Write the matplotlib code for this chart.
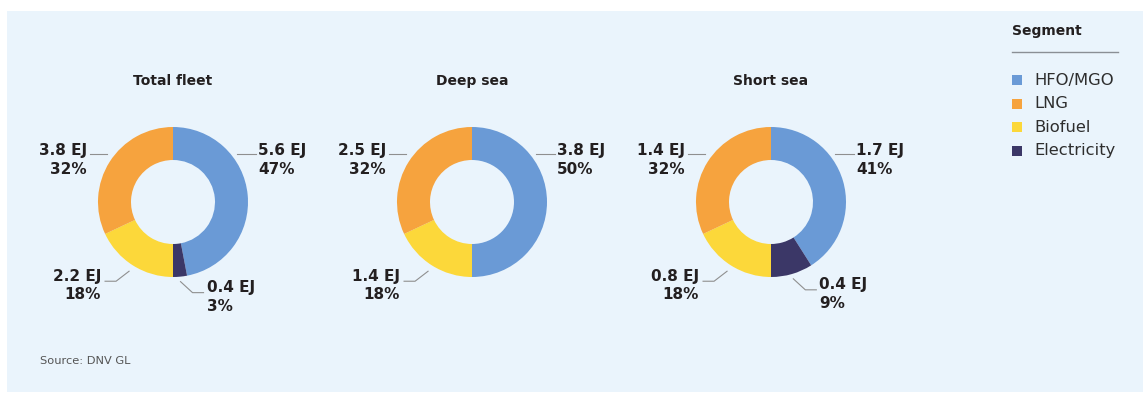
#!/usr/bin/env python
# -*- coding: utf-8 -*-

"""
Energy use by fuel segment: donut charts for total fleet, deep sea and short sea.
"""

import numpy as np
import matplotlib
matplotlib.use("Agg")
import matplotlib.pyplot as plt
from matplotlib.patches import Rectangle

# segments in clockwise order starting from 12 o'clock
SEGMENTS = ["HFO/MGO", "Electricity", "Biofuel", "LNG"]
LEGEND_ORDER = ["HFO/MGO", "LNG", "Biofuel", "Electricity"]

CHART_TITLES = ["Total fleet", "Deep sea", "Short sea"]

total_ej = [5.6, 0.4, 2.2, 3.8]
total_pct = [47, 3, 18, 32]

deep_ej = [3.8, 0.0, 1.4, 2.5]
deep_pct = [50, 0, 18, 32]

short_ej = [1.7, 0.4, 0.8, 1.4]
short_pct = [41, 9, 18, 32]

SOURCE = "Source: DNV GL"
LEGEND_TITLE = "Segment"

COLORS = {
    "HFO/MGO": "#6a9ad6",
    "LNG": "#f6a33e",
    "Biofuel": "#fcd83a",
    "Electricity": "#3b3767",
}
BG = "#eaf4fc"
TEXT = "#231f20"
LEADER = "#8f8f8f"

W, H = 1143, 401
CENTERS_X = [173, 472, 771]
CY = 202
R = 75
RING = 33


def fmt_ej(v):
    return f"{v:.1f} EJ"


def mid_point(pcts, idx, r, cx):
    # mid-angle of a wedge, measured clockwise from the top
    start = sum(pcts[:idx])
    phi = np.deg2rad((start + pcts[idx] / 2) * 3.6)
    return cx + r * np.sin(phi), CY - r * np.cos(phi)


def label(ax, x, y, ej, pct, ha):
    kw = dict(ha=ha, va="center", fontsize=11, fontweight="bold", color=TEXT)
    ax.text(x, y, fmt_ej(ej), **kw)
    ax.text(x, y + 18.5, f"{pct}%", **kw)


def main():
    fig = plt.figure(figsize=(W / 100, H / 100), dpi=100)
    fig.patch.set_facecolor("white")
    # one axes in pixel units, y pointing down
    ax = fig.add_axes([0, 0, 1, 1])

    ax.add_patch(Rectangle((7, 11), W - 7, 381, facecolor=BG, edgecolor="none", zorder=0))

    data = [(total_ej, total_pct), (deep_ej, deep_pct), (short_ej, short_pct)]

    for title, cx, (ej, pct) in zip(CHART_TITLES, CENTERS_X, data):
        # y is inverted, so start at -90 and go counterclockwise in data space
        ax.pie(pct, center=(cx, CY), radius=R, startangle=-90, counterclock=True,
               colors=[COLORS[s] for s in SEGMENTS],
               wedgeprops=dict(width=RING, linewidth=0))

        ax.text(cx, 81, title, ha="center", va="center", fontsize=10,
                fontweight="bold", color=TEXT)

        for i, seg in enumerate(SEGMENTS):
            if pct[i] == 0:
                continue
            if seg == "HFO/MGO":
                ly = CY - 48
                ax.plot([cx + 64, cx + 83], [ly, ly], color=LEADER, lw=0.8)
                label(ax, cx + 85, ly - 3.5, ej[i], pct[i], "left")
            elif seg == "LNG":
                ly = CY - 48
                ax.plot([cx - 66, cx - 83], [ly, ly], color=LEADER, lw=0.8)
                label(ax, cx - 86, ly - 3.5, ej[i], pct[i], "right")
            elif seg == "Biofuel":
                x0, y0 = mid_point(pct, i, 82, cx)
                x1, y1 = x0 - 13, y0 + 10
                x2 = x1 - 11
                ax.plot([x0, x1, x2], [y0, y1, y1], color=LEADER, lw=0.8)
                label(ax, x2 - 4, y1 - 5, ej[i], pct[i], "right")
            else:
                x0, y0 = mid_point(pct, i, 80, cx)
                x1, y1 = x0 + 12, y0 + 11
                x2 = x1 + 11
                ax.plot([x0, x1, x2], [y0, y1, y1], color=LEADER, lw=0.8)
                label(ax, x2 + 3, y1 - 5, ej[i], pct[i], "left")

    # legend
    ax.text(1012, 31, LEGEND_TITLE, ha="left", va="center", fontsize=10,
            fontweight="bold", color=TEXT)
    ax.plot([1012, 1118], [52, 52], color="#8a8f95", lw=1.0)
    for k, seg in enumerate(LEGEND_ORDER):
        y = 80 + k * 23.5
        ax.add_patch(Rectangle((1012, y - 5), 10, 10, facecolor=COLORS[seg], edgecolor="none"))
        ax.text(1034, y, seg, ha="left", va="center", fontsize=11.8, color="#2e2e2e")

    ax.text(40, 361, SOURCE, ha="left", va="center", fontsize=8.2, color="#555555")

    ax.set_xlim(0, W)
    ax.set_ylim(H, 0)
    ax.set_aspect("auto")
    ax.axis("off")

    fig.savefig("out.png", dpi=100, facecolor=fig.get_facecolor())
    plt.close(fig)


if __name__ == "__main__":
    main()
